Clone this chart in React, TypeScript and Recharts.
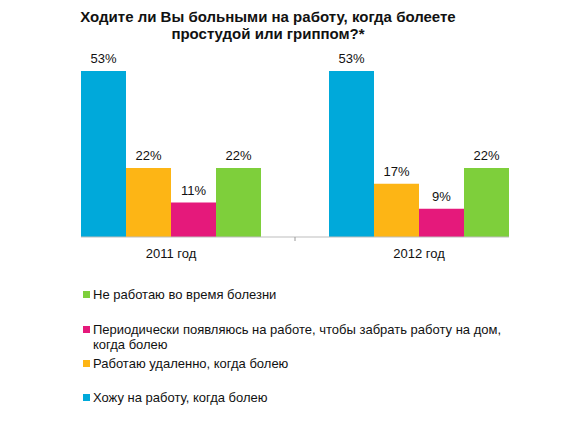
import React from 'react'
import { BarChart, Bar, XAxis, YAxis, LabelList } from 'recharts'

const years = ['2011 год', '2012 год']
const goToWork = [53, 53]
const remote = [22, 17]
const pickUp = [11, 9]
const stayHome = [22, 22]

const seriesNames = [
  'Хожу на работу, когда болею',
  'Работаю удаленно, когда болею',
  'Периодически появляюсь на работе, чтобы забрать работу на дом, когда болею',
  'Не работаю во время болезни',
]
const colors = ['#00A9DA', '#FDB515', '#E5197B', '#7ECF3B']

const data = years.map((y, i) => ({
  year: y,
  s0: goToWork[i],
  s1: remote[i],
  s2: pickUp[i],
  s3: stayHome[i],
}))

const font = 'Arial, "Liberation Sans", sans-serif'
const BAR = 45

// custom tick: also draws the shortened axis line and the mid tick mark
const YearTick = (props: any) => {
  const { x, y, payload, index } = props
  const off = payload.offset || 0
  return (
    <g>
      {index === 0 && (
        <line x1={x - 2 * BAR} x2={x + 2 * off + 2 * BAR} y1={y} y2={y} stroke="#bdbdbd" />
      )}
      {index === 1 && <line x1={x - off} x2={x - off} y1={y} y2={y + 4} stroke="#999" />}
      <text x={x} y={y} dy={21} textAnchor="middle" fontSize={13} fill="#111" fontFamily={font}>
        {payload.value}
      </text>
    </g>
  )
}

const legendTops = [287, 322, 356, 390]

export default function App() {
  const legend = seriesNames.map((n, i) => ({ n, c: colors[i] })).reverse()
  return (
    <div style={{ position: 'absolute', left: 0, top: 0, width: 565, height: 424, background: '#fff' }}>
      <div
        style={{
          position: 'absolute',
          left: 0,
          width: 536,
          top: 8,
          textAlign: 'center',
          fontFamily: font,
          fontWeight: 'bold',
          fontSize: 15,
          lineHeight: '17px',
          color: '#111',
        }}
      >
        Ходите ли Вы больными на работу, когда болеете
        <br />
        простудой или гриппом?*
      </div>
      <BarChart
        width={565}
        height={424}
        data={data}
        margin={{ top: 49, right: 22, left: 47, bottom: 157 }}
        barGap={0}
        barCategoryGap={34}
        style={{ position: 'absolute', left: 0, top: 0 }}
      >
        <XAxis
          dataKey="year"
          height={30}
          axisLine={false}
          tickLine={false}
          tickSize={0}
          tickMargin={0}
          tick={<YearTick />}
        />
        <YAxis hide domain={[0, 60]} />
        {seriesNames.map((n, i) => (
          <Bar key={n} dataKey={`s${i}`} name={n} fill={colors[i]} isAnimationActive={false}>
            <LabelList
              dataKey={`s${i}`}
              position="top"
              offset={8}
              formatter={(v: any) => `${v}%`}
              style={{ fontFamily: font, fontSize: 13, fill: '#111' }}
            />
          </Bar>
        ))}
      </BarChart>
      {legend.map((it, i) => (
        <div
          key={it.n}
          style={{
            position: 'absolute',
            left: 83,
            top: legendTops[i],
            width: 440,
            display: 'flex',
            fontFamily: font,
            fontSize: 13,
            lineHeight: '15px',
            color: '#111',
          }}
        >
          <span style={{ width: 7, height: 7, background: it.c, marginTop: 4, marginRight: 3, flexShrink: 0 }} />
          <span>{it.n}</span>
        </div>
      ))}
    </div>
  )
}
